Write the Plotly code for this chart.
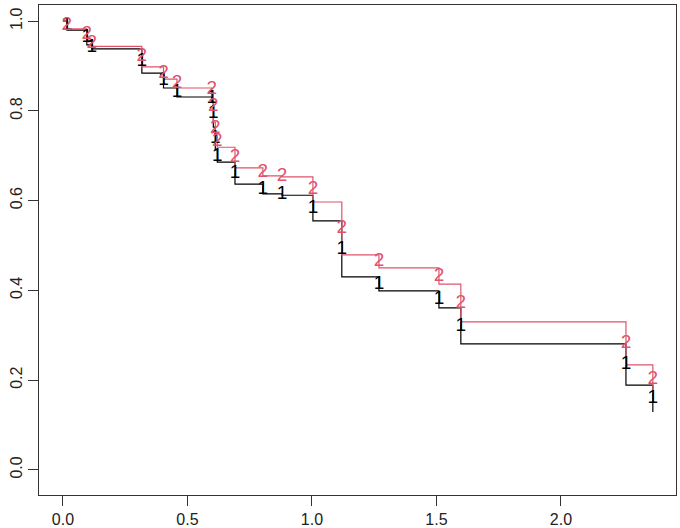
import plotly.graph_objects as go

# Event times shared by both curves
times = [0.016, 0.096, 0.116, 0.317, 0.404, 0.458, 0.598, 0.604, 0.612, 0.620,
         0.691, 0.803, 0.880, 1.004, 1.120, 1.269, 1.510, 1.598, 2.261, 2.369]
# Curve 1 (black) survival values after each event
surv1 = [0.980, 0.947, 0.938, 0.884, 0.851, 0.831, 0.824, 0.764, 0.713, 0.686,
         0.637, 0.615, 0.612, 0.555, 0.430, 0.399, 0.361, 0.281, 0.189, 0.129]
# Curve 2 (red) survival values after each event
surv2 = [0.983, 0.958, 0.944, 0.898, 0.871, 0.851, 0.845, 0.775, 0.746, 0.719,
         0.673, 0.655, 0.653, 0.597, 0.479, 0.450, 0.414, 0.330, 0.234, 0.171]
start_time = 0.0
start_surv = 1.0
labels = ["1", "2"]
colors = ["#000000", "#DF536B"]

x_ticks = [0.0, 0.5, 1.0, 1.5, 2.0]
y_ticks = [0.0, 0.2, 0.4, 0.6, 0.8, 1.0]

fig = go.Figure()
FONT = "Liberation Sans, Arial, sans-serif"

for surv, lab, col in zip([surv1, surv2], labels, colors):
    xs = [start_time] + times
    ys = [start_surv] + surv
    fig.add_trace(go.Scatter(x=xs, y=ys, mode="lines", line=dict(shape="hv", color=col, width=1.2),
                             hoverinfo="skip", showlegend=False))
for surv, lab, col in zip([surv1, surv2], labels, colors):
    prev = [start_surv] + surv[:-1]
    mids = [(a + b) / 2 for a, b in zip(prev, surv)]
    fig.add_trace(go.Scatter(x=times, y=mids, mode="text", text=[lab] * len(times),
                             textposition="middle center",
                             textfont=dict(color=col, size=19, family=FONT),
                             hoverinfo="skip", showlegend=False, cliponaxis=False))

axis_common = dict(showgrid=False, zeroline=False, showline=True, mirror=True,
                   linecolor="#333333", linewidth=1, ticks="outside", ticklen=10,
                   tickcolor="#333333", tickwidth=1, automargin=False,
                   tickfont=dict(family=FONT, size=16, color="#222222"))

fig.update_layout(
    width=680, height=528,
    margin=dict(l=39, r=4, t=5, b=33),
    plot_bgcolor="white", paper_bgcolor="white",
    xaxis=dict(range=[-0.096, 2.462], tickvals=x_ticks,
               ticktext=[f"{v:.1f}" for v in x_ticks], **axis_common),
    yaxis=dict(range=[-0.056, 1.036], tickvals=y_ticks,
               ticktext=[f"{v:.1f}" for v in y_ticks], tickangle=-90, **axis_common),
)

fig.write_html("out.html", config={"displayModeBar": False},
               post_script="document.body.style.margin='0';document.body.style.padding='0';"
                           "document.body.style.overflow='hidden';")
